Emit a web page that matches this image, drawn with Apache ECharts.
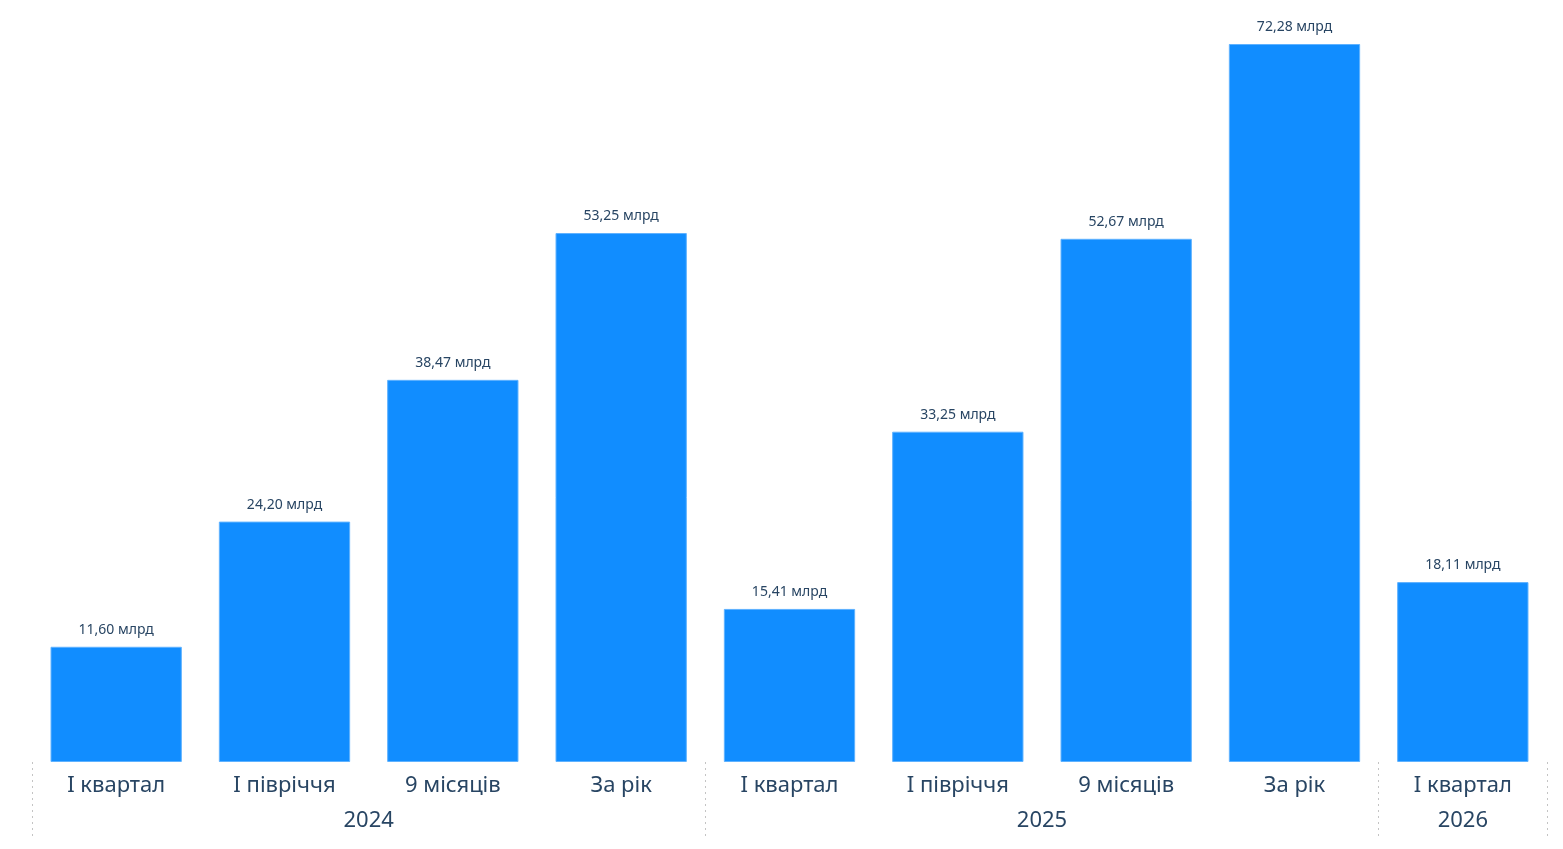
<!DOCTYPE html>
<html>
<head>
<meta charset="utf-8">
<script src="https://cdn.jsdelivr.net/npm/echarts@6/dist/echarts.min.js"></script>
<style>
  html, body { margin: 0; padding: 0; background: #fff; }
  #chart { width: 1563px; height: 849px; }
</style>
</head>
<body>
<div id="chart"></div>
<script>
// підписи категорій
const categories = ['I квартал', 'I півріччя', '9 місяців', 'За рік', 'I квартал', 'I півріччя', '9 місяців', 'За рік', 'I квартал']
// значення, млрд
const values = [11.60, 24.20, 38.47, 53.25, 15.41, 33.25, 52.67, 72.28, 18.11]
// роки та межі груп (в індексах категорій)
const years = ['2024', '2025', '2026']
const groupBounds = [0, 4, 8, 9]

const textColor = '#284563'
const fontFamily = '"Segoe UI", "Noto Sans", "Open Sans", sans-serif'

const groupCenters = years.map((_y, i) => (groupBounds[i] + groupBounds[i + 1]) / 2)

const chart = echarts.init(document.getElementById('chart'))
const option = {
    animation: false,
    grid: {
        left: 32,
        right: 16,
        top: 44,
        bottom: 87
    },
    xAxis: [
        {
            type: 'category',
            data: categories,
            axisLine: { show: false },
            axisTick: { show: false },
            axisLabel: {
                color: textColor,
                fontSize: 22,
                fontFamily: fontFamily,
                margin: 13
            }
        },
        {
            // групування за роками
            type: 'value',
            min: 0,
            max: categories.length,
            position: 'bottom',
            axisLine: { show: false },
            splitLine: { show: false },
            axisTick: {
                show: true,
                customValues: groupBounds,
                length: 78,
                lineStyle: { color: '#c4c4c4', type: [2, 4], width: 1 }
            },
            axisLabel: {
                customValues: groupCenters,
                formatter: (v) => {
                    const i = groupCenters.indexOf(v)
                    return i >= 0 ? years[i] : ''
                },
                color: textColor,
                fontSize: 22,
                fontFamily: fontFamily,
                margin: 48
            }
        }
    ],
    yAxis: {
        type: 'value',
        min: 0,
        max: 'dataMax',
        show: false
    },
    series: [
        {
            type: 'bar',
            xAxisIndex: 0,
            data: values,
            barWidth: '78%',
            itemStyle: {
                color: '#118DFF',
                borderColor: '#5fb2ff',
                borderWidth: 1
            },
            label: {
                show: true,
                position: 'top',
                distance: 10,
                color: textColor,
                fontSize: 14,
                fontFamily: fontFamily,
                formatter: (p) => p.value.toFixed(2).replace('.', ',') + ' млрд'
            }
        }
    ]
}
chart.setOption(option)
</script>
</body>
</html>
